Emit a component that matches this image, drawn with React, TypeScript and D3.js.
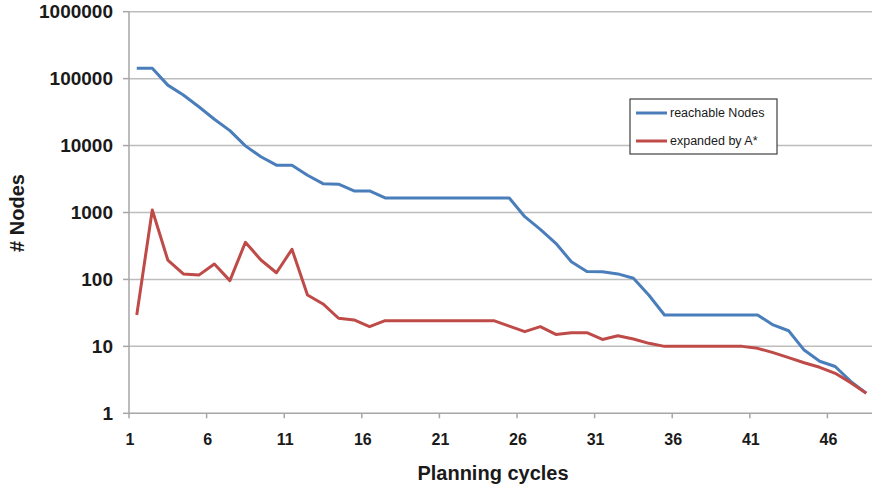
import React from 'react'
import * as d3 from 'd3'

const cycles = d3.range(1, 49)
const xTickLabels = [1, 6, 11, 16, 21, 26, 31, 36, 41, 46]
const yTickValues = [1, 10, 100, 1000, 10000, 100000, 1000000]

const reachableNodes = [
	143000, 143000, 80000, 57000, 38000, 24700, 16700, 9900, 6800, 5100, 5100, 3600, 2700, 2650, 2100, 2100,
	1650, 1650, 1650, 1650, 1650, 1650, 1650, 1650, 1650,
	866, 561, 347, 184, 131, 130, 121, 104, 58,
	29.4, 29.4, 29.4, 29.4, 29.4, 29.4, 29.4,
	20.9, 17.1, 8.8, 6.0, 5.0, 3.0, 2.0,
]
const expandedByAStar = [
	29.4, 1090, 195, 121, 116, 170, 96, 359, 195, 126, 282, 58.6, 43, 26.3, 24.8, 19.7,
	24.2, 24.2, 24.2, 24.2, 24.2, 24.2, 24.2, 24.2,
	20.1, 16.6, 19.7, 15.1, 16, 16, 12.7, 14.4, 12.9, 11.1,
	10, 10, 10, 10, 10, 10,
	9.35, 8.05, 6.8, 5.7, 4.87, 3.96, 2.87, 2.0,
]

const series = [
	{ name: 'reachable Nodes', values: reachableNodes, color: '#4a7ebb' },
	{ name: 'expanded by A*', values: expandedByAStar, color: '#be4b48' },
]

const width = 874
const height = 494
const left = 129
const right = 874
const top = 11.7
const bottom = 413.3

const App = () => {
	const xScale = d3.scaleBand<number>().domain(cycles).range([left, right]).padding(0)
	const yScale = d3.scaleLog().domain([1, 1000000]).range([bottom, top])
	const half = xScale.bandwidth() / 2

	const lineGenerator = d3
		.line<number>()
		.x((d, i) => (xScale(cycles[i]) as number) + half)
		.y(d => yScale(d))

	const font = '"Liberation Sans", Arial, sans-serif'

	return (
		<svg width={width} height={height} style={{ position: 'absolute', left: 0, top: 0, background: '#fff' }} fontFamily={font}>
			{yTickValues.map(v => (
				<g key={v}>
					{v > 1 && (
						<line x1={left} x2={872} y1={yScale(v)} y2={yScale(v)} stroke='#bdbdbd' strokeWidth={1.5} />
					)}
					<line x1={left - 6} x2={left} y1={yScale(v)} y2={yScale(v)} stroke='#a6a6a6' strokeWidth={1.5} />
					<text x={113} y={yScale(v)} dy='0.35em' textAnchor='end' fontSize={19} fontWeight='bold' fill='#1a1a1a'>
						{v}
					</text>
				</g>
			))}
			<line x1={left} x2={left} y1={top} y2={bottom} stroke='#a6a6a6' strokeWidth={1.5} />
			<line x1={left} x2={872} y1={bottom} y2={bottom} stroke='#a6a6a6' strokeWidth={1.5} />
			{xTickLabels.map(c => (
				<g key={c}>
					<line x1={xScale(c)} x2={xScale(c)} y1={bottom} y2={bottom + 5} stroke='#a6a6a6' strokeWidth={1.5} />
					<text x={(xScale(c) as number) + 1} y={445} textAnchor='middle' fontSize={16} fontWeight='bold' fill='#1a1a1a'>
						{c}
					</text>
				</g>
			))}
			{series.map(s => (
				<path key={s.name} d={lineGenerator(s.values) || ''} fill='none' stroke={s.color} strokeWidth={3} strokeLinejoin='round' />
			))}
			<text x={493} y={480} textAnchor='middle' fontSize={20} fontWeight='bold' fill='#1a1a1a'>
				Planning cycles
			</text>
			<text transform='translate(24, 213) rotate(-90)' textAnchor='middle' fontSize={20} fontWeight='bold' fill='#1a1a1a'>
				# Nodes
			</text>
			<g transform='translate(630, 99)'>
				<rect x={0} y={0} width={147} height={55} fill='#fff' stroke='#404040' strokeWidth={1.2} />
				{series.map((s, i) => (
					<g key={s.name} transform={`translate(0, ${14 + i * 28})`}>
						<line x1={6} x2={37} y1={0} y2={0} stroke={s.color} strokeWidth={3} />
						<text x={40} y={0} dy='0.35em' fontSize={12.5} fill='#1a1a1a'>
							{s.name}
						</text>
					</g>
				))}
			</g>
		</svg>
	)
}

export default App
